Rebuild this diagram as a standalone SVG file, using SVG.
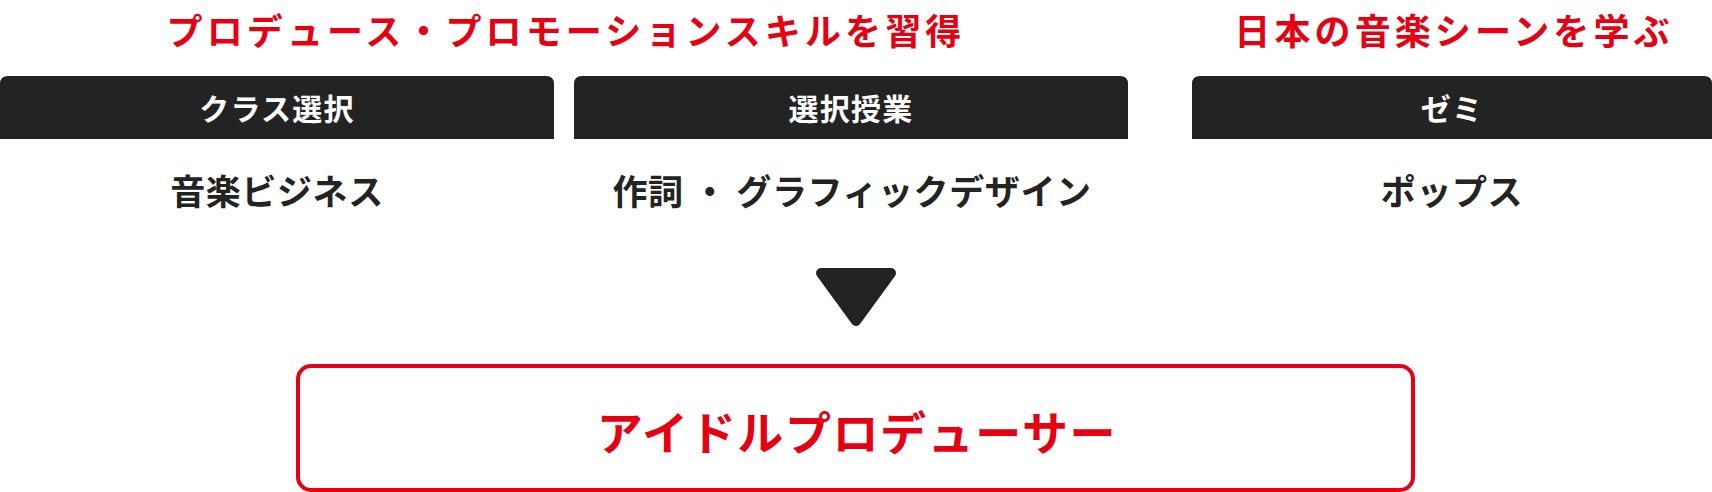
<svg xmlns="http://www.w3.org/2000/svg" width="1712" height="492" viewBox="0 0 1712 492">
<style>
text{font-family:"Noto Sans CJK JP","Noto Sans CJK SC",sans-serif;font-weight:700;text-anchor:middle;dominant-baseline:central}
.title{fill:#e50012;font-size:36px;letter-spacing:4.1px}
.hd{fill:#232323}
.hdt{fill:#ffffff;font-size:30px;letter-spacing:1.2px}
.body{fill:#232323;font-size:35px;letter-spacing:0.6px}
.res{fill:#ffffff;stroke:#e50012;stroke-width:4}
.rest{fill:#e50012;font-size:46px;letter-spacing:1.6px}
</style>
<g id="title-left"><text class="title" x="566" y="29">プロデュース・プロモーションスキルを習得</text></g>
<g id="title-right"><text class="title" x="1454" y="29">日本の音楽シーンを学ぶ</text></g>
<g id="node-class">
<path class="hd" d="M0,84 Q0,76 8,76 H546 Q554,76 554,84 V139 H0 Z"/>
<text class="hdt" x="277" y="107">クラス選択</text>
<text class="body" x="277" y="189">音楽ビジネス</text>
</g>
<g id="node-elective">
<path class="hd" d="M574,84 Q574,76 582,76 H1120 Q1128,76 1128,84 V139 H574 Z"/>
<text class="hdt" x="851" y="107">選択授業</text>
<text class="body" x="852" y="189">作詞 ・ グラフィックデザイン</text>
</g>
<g id="node-seminar">
<path class="hd" d="M1192,84 Q1192,76 1200,76 H1704 Q1712,76 1712,84 V139 H1192 Z"/>
<text class="hdt" x="1452" y="107">ゼミ</text>
<text class="body" x="1452" y="189">ポップス</text>
</g>
<g id="connectors">
<polygon points="821,273 891,273 856,321" fill="#232323" stroke="#232323" stroke-width="10" stroke-linejoin="round"/>
</g>
<g id="node-result">
<rect class="res" x="298" y="366" width="1115" height="124" rx="13"/>
<text class="rest" x="857" y="430">アイドルプロデューサー</text>
</g>
</svg>
